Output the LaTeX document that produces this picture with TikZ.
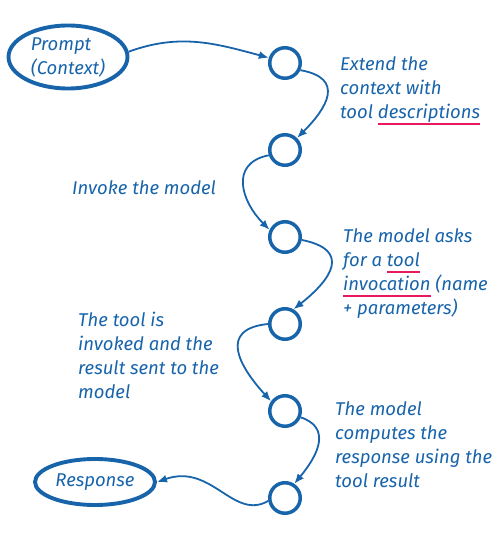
\documentclass[tikz,border=0pt]{standalone}
\usepackage{fontspec}
\setmainfont{Fira Sans}
\usepackage{xcolor}
\usetikzlibrary{positioning, arrows.meta, shapes.geometric}

\definecolor{inkblue}{HTML}{1864AB}
\definecolor{hlred}{HTML}{E8195E}

% red underline under a word
\newcommand{\redul}[1]{\setbox0\hbox{#1}%
  \rlap{\color{hlred}\vrule width\wd0 height-5pt depth6.6pt}\box0\relax}

\begin{document}
\begin{tikzpicture}[
  x=1pt, y=1pt,
  font=\fontsize{18.5}{24}\selectfont\itshape,
  node distance=53pt,
  every node/.style={align=left, text=inkblue},
  stepnode/.style={draw=inkblue, circle, line width=3.5pt,
                   minimum size=30.5pt, inner sep=0pt},
  endnode/.style={draw=inkblue, ellipse, line width=3.9pt, inner sep=0pt},
  note/.style={anchor=north west, inner sep=0pt},
  flow/.style={-{Latex[length=10pt,width=8pt]}, draw=inkblue, line width=1.8pt}
]
\useasboundingbox (0,0) rectangle (500,540);

\node[endnode, minimum width=119pt, minimum height=63pt] (prompt) at (68,483)
  {Prompt\\(Context)};
\node[endnode, minimum width=120pt, minimum height=46pt] (resp) at (95,58)
  {Response};

\node[stepnode] (c1) at (285,477) {};
\node[stepnode, below=of c1] (c2) {};
\node[stepnode, below=of c2] (c3) {};
\node[stepnode, below=of c3] (c4) {};
\node[stepnode, below=of c4] (c5) {};
\node[stepnode, below=of c5] (c6) {};

\node[note] (ext)  at (340,484) {Extend the\\context with\\tool \redul{descriptions}};
\node[note] (inv)  at (72,360)  {Invoke the model};
\node[note] (asks) at (343,312) {The model asks\\for a \redul{tool}\\\redul{invocation} (name\\+ parameters)};
\node[note] (tlis) at (78,228)  {The tool is\\invoked and the\\result sent to the\\model};
\node[note] (comp) at (335,139) {The model\\computes the\\response using the\\tool result};

\draw[flow] (prompt.5) to[out=20, in=165] (c1.162);
\draw[flow] (c1.-25) .. controls +(45,-8) and +(30,30) .. (c2.45);
\draw[flow] (c2.198) .. controls +(-40,-8) and +(-28,28) .. (c3.155);
\draw[flow] (c3.-10) .. controls +(50,-10) and +(38,30) .. (c4.60);
\draw[flow] (c4.180) .. controls +(-50,-5) and +(-32,35) .. (c5.145);
\draw[flow] (c5.-22) .. controls +(30,-10) and +(25,30) .. (c6.57);
\draw[flow] (c6.190) .. controls +(-35,-20) and +(55,19) .. (resp.east);

\end{tikzpicture}
\end{document}
